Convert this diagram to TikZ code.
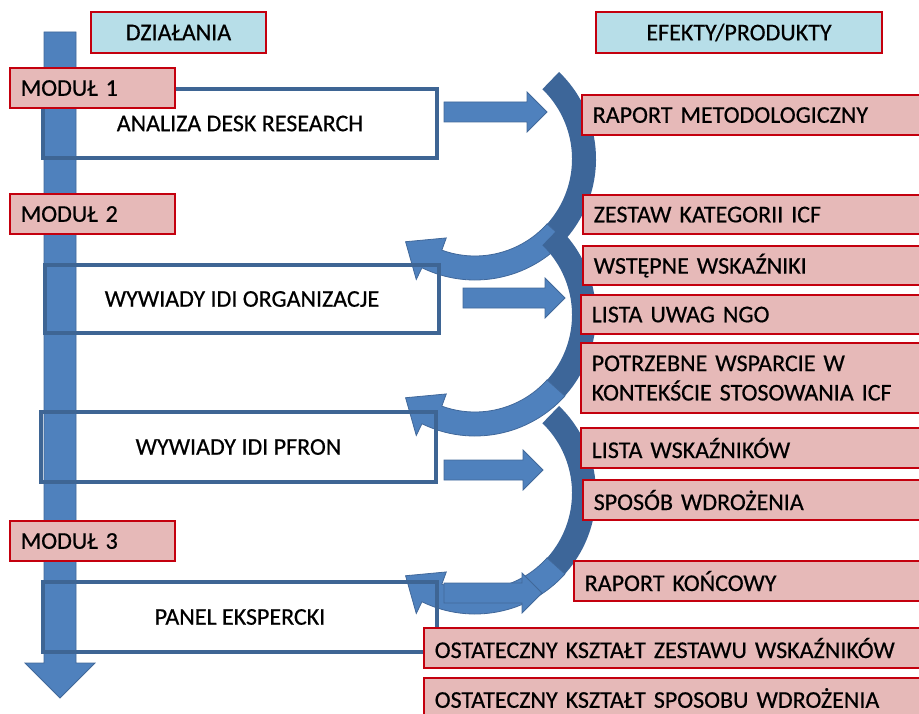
\documentclass[tikz,border=0pt]{standalone}
\usepackage{fontspec}
\setmainfont{Carlito}[FakeBold=0.5]
\usetikzlibrary{calc}

\definecolor{accblue}{HTML}{4F81BD}
\definecolor{accline}{HTML}{41689A}
\definecolor{backblue}{HTML}{3D6699}
\definecolor{actline}{HTML}{3E6594}
\definecolor{boxred}{HTML}{C4000E}
\definecolor{pinkfill}{HTML}{E6B9B8}
\definecolor{headfill}{HTML}{B7DEE8}

\tikzset{
  hdr/.style={draw=boxred, line width=1.6pt, fill=headfill, minimum height=30.75pt, inner sep=0pt},
  modul/.style={draw=boxred, line width=1.6pt, fill=pinkfill, anchor=north west, minimum height=30pt,
    text width=107.75pt, inner xsep=8pt, inner ysep=0pt, align=left},
  act/.style={draw=actline, line width=2.5pt, inner sep=0pt},
  prod/.style={draw=boxred, line width=1.6pt, fill=pinkfill, anchor=north west, minimum height=30pt,
    text width=380pt, inner xsep=8pt, inner ysep=0pt, align=left},
  fat/.style={fill=accblue, draw=accline, line width=0.6pt},
  back/.style={fill=backblue}
}

% block arrow: start x, tip x, y
\newcommand{\fatarrow}[3]{%
  \filldraw[fat] (#1,#3-10) -- (#2-20,#3-10) -- (#2-20,#3-20) -- (#2,#3)
    -- (#2-20,#3+20) -- (#2-20,#3+10) -- (#1,#3+10) -- cycle;}

% curved arrow round the centre (475,#1)
\newcommand{\cyclearrow}[1]{%
  \fill[back] ($(475,#1)+(-46:121)$) arc[start angle=-46, end angle=50, radius=121]
    -- ($(475,#1)+(50:97)$) arc[start angle=50, end angle=-46, radius=97] -- cycle;
  \filldraw[fat] ($(475,#1)+(42:97)$) arc[start angle=42, end angle=110, radius=97]
    -- ($(475,#1)+(110:84)$) -- ($(475,#1)+(130:108)$) -- ($(475,#1)+(116:134)$)
    -- ($(475,#1)+(116:121)$) arc[start angle=116, end angle=42, radius=121] -- cycle;}

\begin{document}
\begin{tikzpicture}[x=0.75pt, y=-0.75pt, font=\fontsize{18}{22}\selectfont]
  \useasboundingbox (0,0) rectangle (919,713);
  \clip (0,0) rectangle (919,713);

  % time line
  \filldraw[fat] (44,32) -- (76,32) -- (76,663) -- (95,663) -- (60,698) -- (25,663) -- (44,663) -- cycle;

  \cyclearrow{159}
  \cyclearrow{315}
  \cyclearrow{493}

  \fatarrow{444}{547}{112}
  \fatarrow{463}{565}{298}
  \fatarrow{444}{543}{470}
  \fatarrow{444}{542}{593}

  % headers
  \node[hdr, minimum width=131.25pt] (dzialania) at (178.5,32.5) {DZIAŁANIA};
  \node[hdr, minimum width=214.5pt]  (efekty)    at (739,32.5)   {EFEKTY/PRODUKTY};

  % activities
  \node[act, minimum width=295.5pt, minimum height=51.75pt]  (desk)  at (240,123.5) {ANALIZA DESK RESEARCH};
  \node[act, minimum width=295.5pt, minimum height=51pt]     (org)   at (242,299)   {WYWIADY IDI ORGANIZACJE};
  \node[act, minimum width=296.25pt, minimum height=52.5pt]  (pfron) at (238.5,447) {WYWIADY IDI PFRON};
  \node[act, minimum width=295.5pt, minimum height=52.5pt]   (panel) at (240,617)   {PANEL EKSPERCKI};

  \node[modul] (mod1) at (9,67)  {MODUŁ 1};
  \node[modul] (mod2) at (9,193) {MODUŁ 2};
  \node[modul] (mod3) at (9,520) {MODUŁ 3};

  % products
  \node[prod] (raport)   at (581,94)  {RAPORT METODOLOGICZNY};
  \node[prod, minimum height=29.25pt] (zestaw) at (582,194) {ZESTAW KATEGORII ICF};
  \node[prod, minimum height=29.25pt] (wstepne) at (582,245) {WSTĘPNE WSKAŹNIKI};
  \node[prod, minimum height=29.25pt] (uwagi)  at (580,294) {LISTA UWAG NGO};
  \node[prod, minimum height=52.5pt]  (wsparcie) at (580,342) {POTRZEBNE WSPARCIE W\\KONTEKŚCIE STOSOWANIA ICF};
  \node[prod] (lista)    at (580,427) {LISTA WSKAŹNIKÓW};
  \node[prod] (sposob)   at (582,479) {SPOSÓB WDROŻENIA};
  \node[prod] (koncowy)  at (573,560) {RAPORT KOŃCOWY};
  \node[prod] (ostzest)  at (423,627) {OSTATECZNY KSZTAŁT ZESTAWU WSKAŹNIKÓW};
  \node[prod] (ostspos)  at (423,677) {OSTATECZNY KSZTAŁT SPOSOBU WDROŻENIA};
\end{tikzpicture}
\end{document}
